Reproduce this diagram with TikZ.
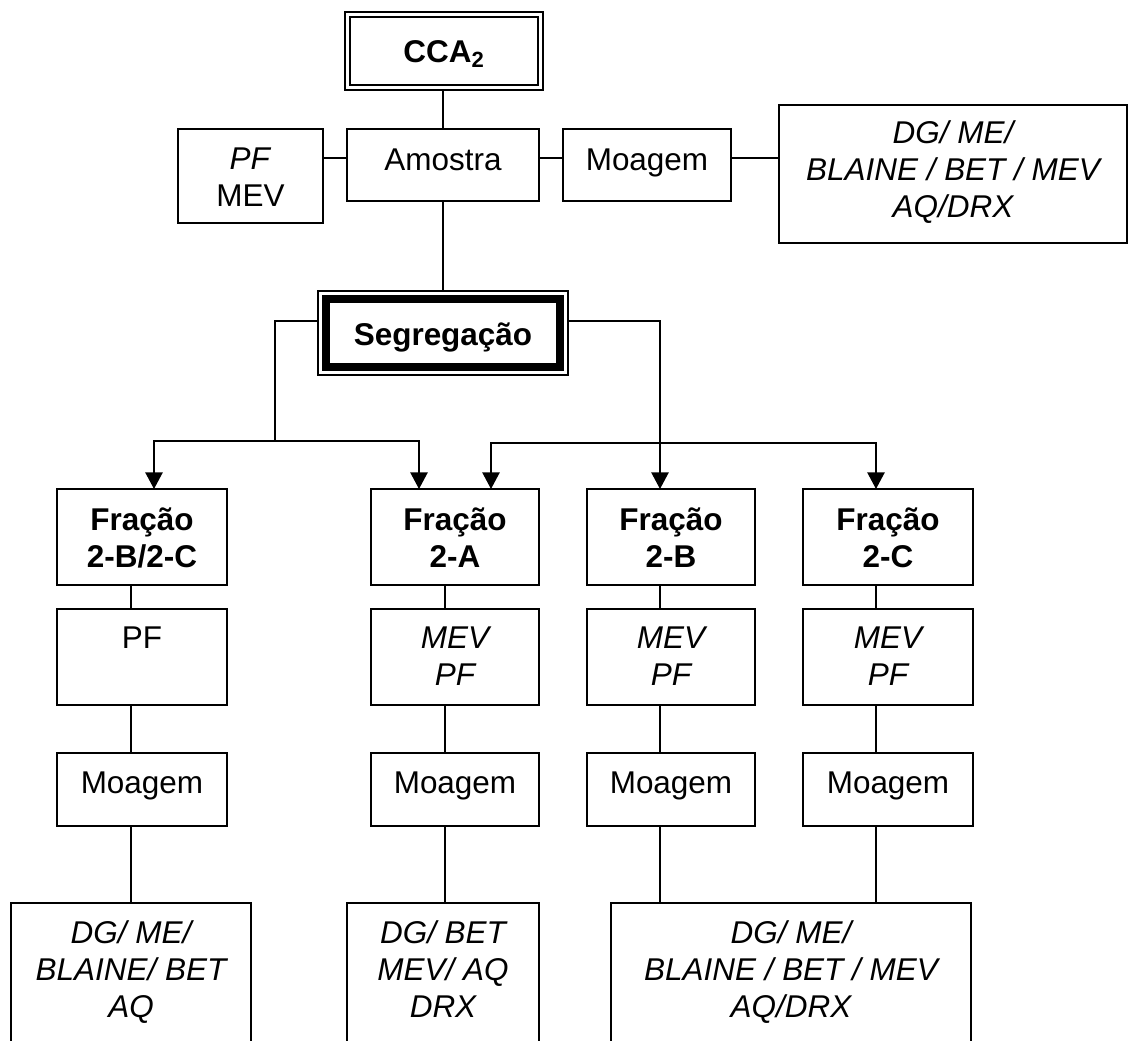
\documentclass[tikz,border=0pt]{standalone}
\usepackage{fontspec}
\setmainfont{Liberation Sans}
\usetikzlibrary{calc,arrows.meta}

% body text of the boxes: 31.5px Arial-like, 37px line pitch (1px = 0.75pt)
\newcommand\boxfont{\fontsize{23.6pt}{27.75pt}\selectfont}
% fixed first-line height so every text block hangs from the same cap line
\newcommand\capstrut{\rule{0pt}{0.78em}}
% \flowbox{name}{left}{top}{width}{height}, all in px
\newcommand\flowbox[5]{\node[frame, anchor=north west,
  minimum width=#4*0.75pt, minimum height=#5*0.75pt] (#1) at (#2,#3) {};}

\begin{document}
\begin{tikzpicture}[x=0.75pt, y=-0.75pt,
  frame/.style={draw, line width=1.2pt, rectangle, inner sep=0pt, outer sep=0pt},
  boxtext/.style={anchor=north, inner sep=0pt, align=center, font=\boxfont},
  boldtext/.style={boxtext, font=\boxfont\bfseries},
  itext/.style={boxtext, font=\boxfont\itshape},
  link/.style={line width=1.2pt},
  arrowlink/.style={line width=1.2pt, -{Triangle[width=13pt,length=12.5pt]}},
]
\useasboundingbox (0,0) rectangle (1129,1041);
\fill[white] (0,0) rectangle (1129,1041);
\clip (0,0) rectangle (1129,1041);

% ---------- top level ----------
\flowbox{cca}{345}{12}{198}{78}
\draw[line width=1.2pt] ([shift={(5,5)}]cca.north west) rectangle ([shift={(-5,-5)}]cca.south east);
\node[boldtext] (tcca) at ($(cca.north)+(0,25.4)$) {\capstrut CCA\textsubscript{2}};

\flowbox{pfmev}{178}{129}{145}{94}
\node[boxtext] (tpfmev) at ($(pfmev.north)+(0,15.4)$) {\capstrut\textit{PF}\\MEV};

\flowbox{amostra}{347}{129}{192}{72}
\node[boxtext] (tamostra) at ($(amostra.north)+(0,16.4)$) {\capstrut Amostra};

\flowbox{moag}{563}{129}{168}{72}
\node[boxtext] (tmoag) at ($(moag.north)+(0,16.4)$) {\capstrut Moagem};

\flowbox{ana}{779}{105}{348}{138}
\node[itext] (tana) at ($(ana.north)+(0,13.4)$) {\capstrut DG/ ME/\\BLAINE / BET / MEV\\AQ/DRX};

% ---------- segregation ----------
\node[frame, anchor=north west, minimum width=250*0.75pt, minimum height=84*0.75pt,
  line width=1.1pt] (seg) at (318,291) {};
\draw[line width=6pt] ([shift={(8,8)}]seg.north west) rectangle ([shift={(-8,-8)}]seg.south east);
\node[boldtext] (tseg) at ($(seg.north)+(0,29.4)$) {\capstrut Segregação};

% ---------- fractions ----------
\flowbox{f1}{57}{489}{170}{96}
\flowbox{f2}{371}{489}{168}{96}
\flowbox{f3}{587}{489}{168}{96}
\flowbox{f4}{803}{489}{170}{96}
\node[boldtext] (tf1) at ($(f1.north)+(0,16.4)$) {\capstrut Fração\\2-B/2-C};
\node[boldtext] (tf2) at ($(f2.north)+(0,16.4)$) {\capstrut Fração\\2-A};
\node[boldtext] (tf3) at ($(f3.north)+(0,16.4)$) {\capstrut Fração\\2-B};
\node[boldtext] (tf4) at ($(f4.north)+(0,16.4)$) {\capstrut Fração\\2-C};

\flowbox{p1}{57}{609}{170}{96}
\flowbox{p2}{371}{609}{168}{96}
\flowbox{p3}{587}{609}{168}{96}
\flowbox{p4}{803}{609}{170}{96}
\node[boxtext] (tp1) at ($(p1.north)+(0,14.4)$) {\capstrut PF};
\node[itext] (tp2) at ($(p2.north)+(0,14.4)$) {\capstrut MEV\\PF};
\node[itext] (tp3) at ($(p3.north)+(0,14.4)$) {\capstrut MEV\\PF};
\node[itext] (tp4) at ($(p4.north)+(0,14.4)$) {\capstrut MEV\\PF};

\flowbox{m1}{57}{753}{170}{73}
\flowbox{m2}{371}{753}{168}{73}
\flowbox{m3}{587}{753}{168}{73}
\flowbox{m4}{803}{753}{170}{73}
\node[boxtext] (tm1) at ($(m1.north)+(0,15.4)$) {\capstrut Moagem};
\node[boxtext] (tm2) at ($(m2.north)+(0,15.4)$) {\capstrut Moagem};
\node[boxtext] (tm3) at ($(m3.north)+(0,15.4)$) {\capstrut Moagem};
\node[boxtext] (tm4) at ($(m4.north)+(0,15.4)$) {\capstrut Moagem};

% analysis boxes, open below the page edge
\flowbox{b1}{11}{903}{240}{160}
\flowbox{b2}{347}{903}{192}{160}
\flowbox{b3}{611}{903}{360}{160}
\node[itext] (tb1) at ($(b1.north)+(0,15.4)$) {\capstrut DG/ ME/\\BLAINE/ BET\\AQ};
\node[itext] (tb2) at ($(b2.north)+(0,15.4)$) {\capstrut DG/ BET\\MEV/ AQ\\DRX};
\node[itext] (tb3) at ($(b3.north)+(0,15.4)$) {\capstrut DG/ ME/\\BLAINE / BET / MEV\\AQ/DRX};

% ---------- connectors ----------
\coordinate (spine) at (443,0);
\coordinate (row1) at (0,158);
\draw[link] (cca.south -| spine) -- (amostra.north -| spine);
\draw[link] (amostra.south -| spine) -- (seg.north -| spine);
\draw[link] (pfmev.east |- row1) -- (amostra.west |- row1);
\draw[link] (amostra.east |- row1) -- (moag.west |- row1);
\draw[link] (moag.east |- row1) -- (ana.west |- row1);

\coordinate (segrow) at (0,321);
\coordinate (lk) at (275,321);
\coordinate (lj) at (275,441);
\coordinate (rk) at (660,321);
\coordinate (rj) at (660,443);
\coordinate (a1) at (154,0);
\coordinate (a2) at (419,0);
\coordinate (a3) at (491,0);
\coordinate (a4) at (876,0);
\draw[link] (seg.west |- segrow) -- (lk) -- (lj);
\draw[arrowlink] (lj) -| (a1 |- f1.north);
\draw[arrowlink] (lj) -| (a2 |- f2.north);
\draw[arrowlink] (seg.east |- segrow) -- (rk) -- (f3.north -| rk);
\draw[arrowlink] (rj) -| (a3 |- f2.north);
\draw[arrowlink] (rj) -| (a4 |- f4.north);

\coordinate (col1) at (131,0);
\coordinate (col2) at (445,0);
\coordinate (col3) at (660,0);
\coordinate (col4) at (876,0);
\foreach \c in {1,2,3,4} {
  \draw[link] (f\c.south -| col\c) -- (p\c.north -| col\c);
  \draw[link] (p\c.south -| col\c) -- (m\c.north -| col\c);
}
\draw[link] (m1.south -| col1) -- (b1.north -| col1);
\draw[link] (m2.south -| col2) -- (b2.north -| col2);
\draw[link] (m3.south -| col3) -- (b3.north -| col3);
\draw[link] (m4.south -| col4) -- (b3.north -| col4);
\end{tikzpicture}
\end{document}
